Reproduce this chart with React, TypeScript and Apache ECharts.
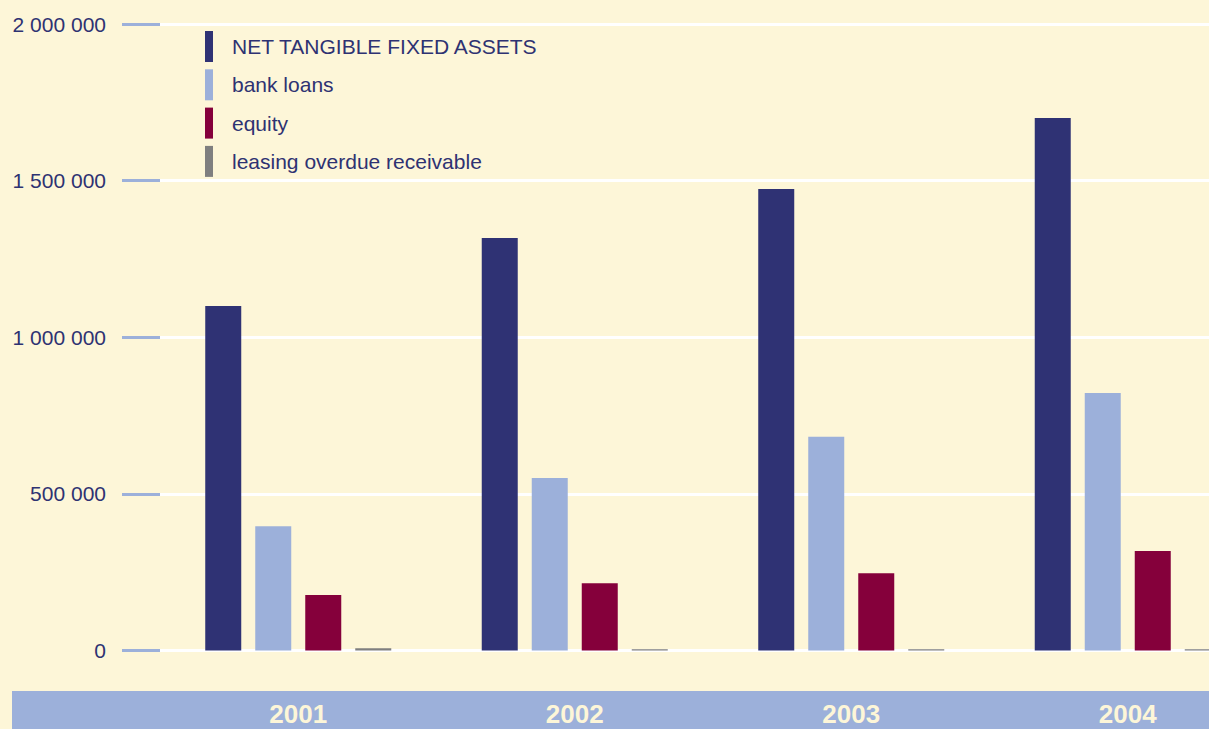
import React, { useEffect, useRef } from "react";
import * as echarts from "echarts";

const years = ["2001", "2002", "2003", "2004"];
const seriesNames = [
  "NET TANGIBLE FIXED ASSETS",
  "bank loans",
  "equity",
  "leasing overdue receivable",
];
const netTangibleFixedAssets = [1100000, 1317000, 1473000, 1700000];
const bankLoans = [397000, 551000, 682000, 822000];
const equity = [177000, 215000, 247000, 318000];
const leasingOverdueReceivable = [7000, 4000, 4000, 4000];
const yTicks = { min: 0, max: 2000000, interval: 500000 };

const colors = ["#2f3274", "#9cb0da", "#85003b", "#7f7f7f"];
const textColor = "#2e3272";
const bg = "#fdf6d8";

export default function App() {
  const ref = useRef<HTMLDivElement>(null);
  useEffect(() => {
    if (!ref.current) return;
    const chart = echarts.init(ref.current, null, { renderer: "svg" });
    const values = [netTangibleFixedAssets, bankLoans, equity, leasingOverdueReceivable];
    chart.setOption({
      animation: false,
      backgroundColor: bg,
      textStyle: { fontFamily: "Liberation Sans, Arial, sans-serif" },
      graphic: [
        {
          type: "rect",
          z: -10,
          shape: { x: 12, y: 691, width: 1260, height: 38 },
          style: { fill: "#9cb0da" },
        },
      ],
      legend: {
        orient: "vertical",
        left: 205,
        top: 31,
        itemWidth: 8,
        itemHeight: 31,
        itemGap: 7.3,
        icon: "rect",
        padding: 0,
        data: seriesNames,
        selectedMode: false,
        textStyle: {
          color: textColor,
          fontSize: 21,
          padding: [0, 0, 0, 14],
          fontFamily: "Liberation Sans, Arial, sans-serif",
        },
      },
      grid: { left: 160, right: 0, top: 24, bottom: 78.5, containLabel: false },
      xAxis: {
        type: "category",
        data: years,
        axisLine: { show: false },
        axisTick: { show: false },
        axisLabel: {
          margin: 50,
          fontSize: 26,
          fontWeight: "bold",
          color: bg,
          fontFamily: "Liberation Sans, Arial, sans-serif",
        },
      },
      yAxis: {
        type: "value",
        min: yTicks.min,
        max: yTicks.max,
        interval: yTicks.interval,
        axisLine: { show: false },
        axisTick: { show: true, length: 38, lineStyle: { color: "#9cb0da", width: 3 } },
        splitLine: { lineStyle: { color: "#ffffff", width: 3 } },
        axisLabel: {
          margin: 54,
          fontSize: 21,
          color: textColor,
          fontFamily: "Liberation Sans, Arial, sans-serif",
          formatter: (v: number) => String(v).replace(/\B(?=(\d{3})+(?!\d))/g, " "),
        },
      },
      series: seriesNames.map((name, i) => ({
        name,
        type: "bar",
        data: values[i],
        barWidth: 36,
        barGap: "38.9%",
        itemStyle: { color: colors[i] },
      })),
    });
    return () => chart.dispose();
  }, []);
  return (
    <div
      style={{
        position: "fixed",
        left: 0,
        top: 0,
        width: 1209,
        height: 729,
        overflow: "hidden",
      }}
    >
      <div ref={ref} style={{ width: 1266, height: 729 }} />
    </div>
  );
}
